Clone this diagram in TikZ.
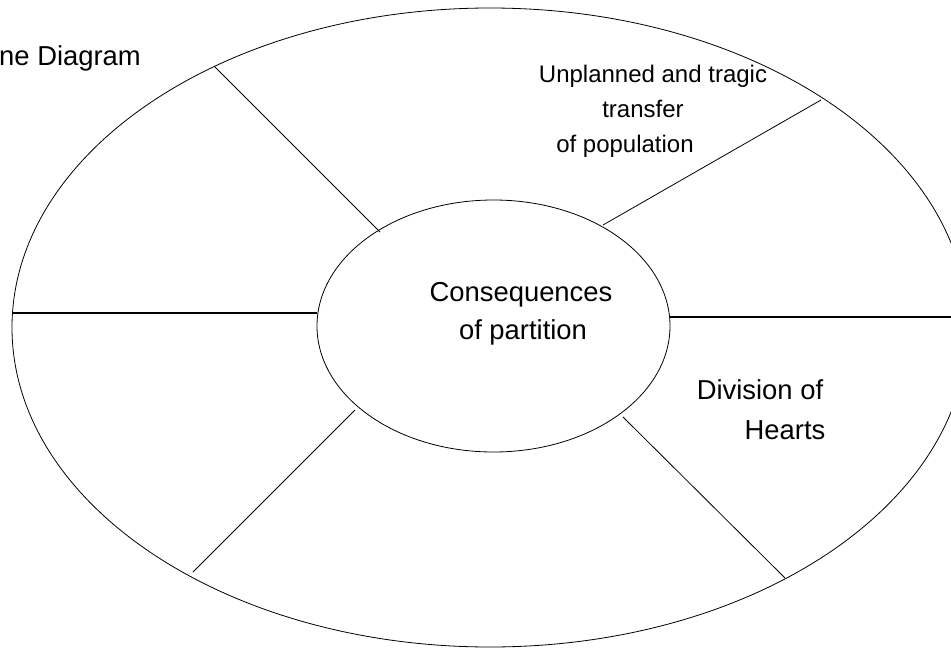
\documentclass[tikz,border=0pt]{standalone}
\usepackage{fontspec}
\setmainfont{Liberation Sans}
\usetikzlibrary{shapes.geometric}
\begin{document}
\begin{tikzpicture}[x=1pt,y=-1pt,
  ring/.style={draw=black,line width=0.8pt,ellipse,inner sep=0pt,outer sep=0pt},
  spoke/.style={draw=black,line width=0.8pt},
  hspoke/.style={draw=black,line width=1.3pt},
  lbl/.style={inner sep=0pt,anchor=base,font=\fontsize{27.4}{38}\selectfont},
  toplbl/.style={inner sep=0pt,anchor=base,font=\fontsize{24}{34}\selectfont}]
\useasboundingbox (0,0) rectangle (951,648);
\node[ring,minimum width=956pt,minimum height=639pt] (outer) at (490,327.5) {};
\node[ring,minimum width=353pt,minimum height=252pt] (inner) at (493.5,326) {};
% spoke end points
\coordinate (a1) at (380,232); \coordinate (a2) at (214,66);
\coordinate (b1) at (603,225); \coordinate (b2) at (821,100);
\coordinate (c1) at (317,313); \coordinate (c2) at (12,313);
\coordinate (d1) at (670,317); \coordinate (d2) at (951,317);
\coordinate (e1) at (355,410); \coordinate (e2) at (193,572);
\coordinate (f1) at (623,417); \coordinate (f2) at (785,578);
\draw[spoke] (a1) -- (a2);
\draw[spoke] (b1) -- (b2);
\draw[hspoke] (c1) -- (c2);
\draw[hspoke] (d1) -- (d2);
\draw[spoke] (e1) -- (e2);
\draw[spoke] (f1) -- (f2);
% labels
\node[lbl,anchor=base west] (title) at (-1,65) {ne Diagram};
\node[toplbl] (u1) at (653,82) {Unplanned and tragic};
\node[toplbl] (u2) at (643,117) {transfer};
\node[toplbl] (u3) at (625,152) {of population};
\node[lbl] (c1t) at (521,301) {Consequences};
\node[lbl] (c2t) at (523,339) {of partition};
\node[lbl] (h1) at (760,399) {Division of};
\node[lbl] (h2) at (785,439) {Hearts};
\end{tikzpicture}
\end{document}
